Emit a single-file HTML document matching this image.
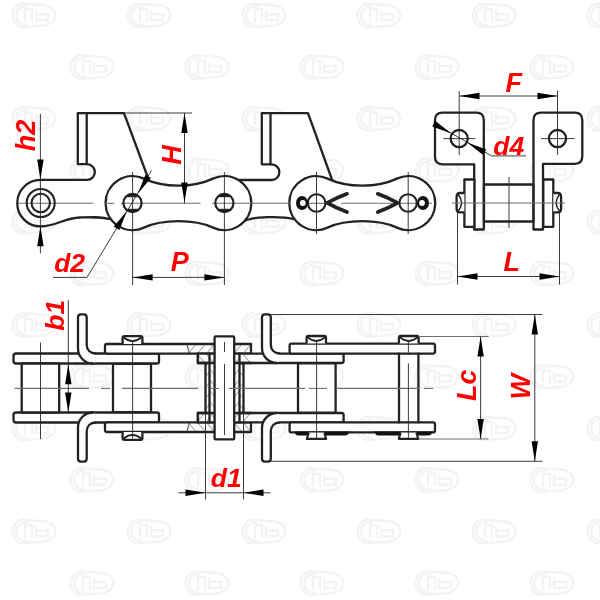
<!DOCTYPE html>
<html><head><meta charset="utf-8"><style>
html,body{margin:0;padding:0;background:#fff;}
svg{display:block;}
.o{fill:none;stroke:#222;stroke-width:2.3;stroke-linejoin:round;stroke-linecap:round;}
.w{fill:#fff;stroke:#222;stroke-width:2.3;stroke-linejoin:round;}
.t{fill:none;stroke:#262626;stroke-width:0.9;}
.c{fill:none;stroke:#6e6e6e;stroke-width:1.1;}
.h{fill:none;stroke:#444;stroke-width:0.8;}
.a{fill:#111;stroke:none;}
.s{font-size:26.5px !important;}
.r{fill:#f00;font-family:"Liberation Sans",sans-serif;font-weight:bold;font-style:italic;font-size:27px;}
.wm{fill:none;stroke:#f3f3f3;stroke-width:2.4;}
</style></head><body>
<svg width="600" height="600" viewBox="0 0 600 600">
<defs>
<g id="logo">
<path d="M-12,-11.5 L10,-10 C17,-9 21,-5 21.5,0 C21,5 17,9 10,10.5 L-12,12 C-18,11 -21.5,6 -21.5,0.3 C-21.5,-5 -18,-10.5 -12,-11.5 Z"/>
<path d="M-6,-9 C-14,-9 -18,-5 -18,0.5 C-18,6 -14,10 -6,10"/>
<path d="M-9,7 L-9,-6 L-2,-6 L-2,7 M2,-5 L2,5 L14,5 L14,-1 L2,-1"/>
</g>
<path id="arr" d="M0,0 L-20,-3.2 L-20,3.2 Z"/>
</defs>

<!-- watermarks -->
<filter id="bl" x="-5%" y="-5%" width="110%" height="110%"><feGaussianBlur stdDeviation="0.7"/></filter><g class="wm" id="wms" filter="url(#bl)"><use href="#logo" x="34.0" y="15.3"/><use href="#logo" x="149.0" y="15.3"/><use href="#logo" x="264.0" y="15.3"/><use href="#logo" x="379.0" y="15.3"/><use href="#logo" x="494.0" y="15.3"/><use href="#logo" x="609.0" y="15.3"/><use href="#logo" x="-23.0" y="66.9"/><use href="#logo" x="92.0" y="66.9"/><use href="#logo" x="207.0" y="66.9"/><use href="#logo" x="322.0" y="66.9"/><use href="#logo" x="437.0" y="66.9"/><use href="#logo" x="552.0" y="66.9"/><use href="#logo" x="34.0" y="118.5"/><use href="#logo" x="149.0" y="118.5"/><use href="#logo" x="264.0" y="118.5"/><use href="#logo" x="379.0" y="118.5"/><use href="#logo" x="494.0" y="118.5"/><use href="#logo" x="609.0" y="118.5"/><use href="#logo" x="-23.0" y="170.1"/><use href="#logo" x="92.0" y="170.1"/><use href="#logo" x="207.0" y="170.1"/><use href="#logo" x="322.0" y="170.1"/><use href="#logo" x="437.0" y="170.1"/><use href="#logo" x="552.0" y="170.1"/><use href="#logo" x="34.0" y="221.7"/><use href="#logo" x="149.0" y="221.7"/><use href="#logo" x="264.0" y="221.7"/><use href="#logo" x="379.0" y="221.7"/><use href="#logo" x="494.0" y="221.7"/><use href="#logo" x="609.0" y="221.7"/><use href="#logo" x="-23.0" y="273.3"/><use href="#logo" x="92.0" y="273.3"/><use href="#logo" x="207.0" y="273.3"/><use href="#logo" x="322.0" y="273.3"/><use href="#logo" x="437.0" y="273.3"/><use href="#logo" x="552.0" y="273.3"/><use href="#logo" x="34.0" y="324.9"/><use href="#logo" x="149.0" y="324.9"/><use href="#logo" x="264.0" y="324.9"/><use href="#logo" x="379.0" y="324.9"/><use href="#logo" x="494.0" y="324.9"/><use href="#logo" x="609.0" y="324.9"/><use href="#logo" x="-23.0" y="376.5"/><use href="#logo" x="92.0" y="376.5"/><use href="#logo" x="207.0" y="376.5"/><use href="#logo" x="322.0" y="376.5"/><use href="#logo" x="437.0" y="376.5"/><use href="#logo" x="552.0" y="376.5"/><use href="#logo" x="34.0" y="428.1"/><use href="#logo" x="149.0" y="428.1"/><use href="#logo" x="264.0" y="428.1"/><use href="#logo" x="379.0" y="428.1"/><use href="#logo" x="494.0" y="428.1"/><use href="#logo" x="609.0" y="428.1"/><use href="#logo" x="-23.0" y="479.7"/><use href="#logo" x="92.0" y="479.7"/><use href="#logo" x="207.0" y="479.7"/><use href="#logo" x="322.0" y="479.7"/><use href="#logo" x="437.0" y="479.7"/><use href="#logo" x="552.0" y="479.7"/><use href="#logo" x="34.0" y="531.3"/><use href="#logo" x="149.0" y="531.3"/><use href="#logo" x="264.0" y="531.3"/><use href="#logo" x="379.0" y="531.3"/><use href="#logo" x="494.0" y="531.3"/><use href="#logo" x="609.0" y="531.3"/><use href="#logo" x="-23.0" y="582.9"/><use href="#logo" x="92.0" y="582.9"/><use href="#logo" x="207.0" y="582.9"/><use href="#logo" x="322.0" y="582.9"/><use href="#logo" x="437.0" y="582.9"/><use href="#logo" x="552.0" y="582.9"/></g>

<!-- ================= SIDE VIEW ================= -->

<!-- inner plate 1-2 + attachment 1 -->
<path class="w" d="M40.5,179.9 L87,179.9 A7.85,7.85 0 0 0 87,164.2 L77.8,164.2 L77.8,113.1 L124,113.1 L147.5,176.5 L132,202 L112,219.5 C100,216.5 92,217 80,217.5 C64,218 56,226.4 40.5,226.4 A23.25,23.25 0 0 1 40.5,179.9 Z"/>
<line class="o" x1="86.7" y1="113.1" x2="86.7" y2="164.2"/>
<!-- inner plate 3-4 + attachment 2 -->
<path class="w" d="M224.4,180 L271.5,180 A7.85,7.85 0 0 0 271.5,164.3 L261.8,164.3 L261.8,113.1 L308,113.1 L332.5,181 L316,202 L293,219 C284,216.5 276,217 264,217.3 C252,217.5 246,220 240,222 L224.4,202 Z"/>
<line class="o" x1="270.5" y1="113.1" x2="270.5" y2="164.3"/>

<!-- outer plate 2-3 -->
<g transform="translate(0,0.6)"><path class="w" d="M143.9,178 C153,182.2 164,185 178.5,185 C193,185 204,182.2 213,178 A27,27 0 1 1 213,227 C204,222.8 193,220.5 178.5,220.5 C164,220.5 153,222.8 143.9,227 A27,27 0 1 1 143.9,178 Z"/></g>
<!-- outer plate 4-5 -->
<g transform="translate(0,0.6)"><path class="w" d="M327.6,178 C336.5,182.2 347.5,185 362.3,185 C377,185 388,182.2 396.9,178 A27,27 0 1 1 396.9,227 C388,222.8 377,220.5 362.3,220.5 C347.5,220.5 336.5,222.8 327.6,227 A27,27 0 1 1 327.6,178 Z"/></g>

<!-- centre line -->
<line class="c" x1="18" y1="203.3" x2="93.3" y2="203.3"/>
<line class="c" x1="104.5" y1="203.3" x2="114.3" y2="203.3"/><line class="c" x1="121" y1="203.3" x2="200.5" y2="203.3"/>
<line class="c" x1="212" y1="203.3" x2="290" y2="203.3"/>
<line class="c" x1="308" y1="203.3" x2="331" y2="203.3"/><line class="c" x1="341" y1="203.3" x2="392" y2="203.3"/><line class="c" x1="396" y1="203.3" x2="432" y2="203.3"/>

<!-- link 1 bushing -->
<circle class="o" cx="40.7" cy="203" r="14" style="stroke-width:2.1"/>
<circle class="o" cx="40.7" cy="203" r="9.2" style="stroke-width:2.1"/>
<!-- link 2/3 pins with flats -->
<g id="pinf">
<circle class="o" cx="132.5" cy="203" r="9.1" style="stroke-width:2.2"/>
<path class="a" d="M126.5,196.2 L138.5,196.2 A9.1,9.1 0 0 0 126.5,196.2 Z M126.5,209.8 L138.5,209.8 A9.1,9.1 0 0 1 126.5,209.8 Z"/>
<line class="o" x1="126.3" y1="196.2" x2="138.7" y2="196.2" style="stroke-linecap:butt;stroke-width:2"/>
<line class="o" x1="126.3" y1="209.8" x2="138.7" y2="209.8" style="stroke-linecap:butt;stroke-width:2"/>
</g>
<use href="#pinf" x="91.9"/>
<!-- link 4/5 pins with cotter -->
<circle class="o" cx="316.6" cy="203" r="8.8" style="stroke-width:2.1"/>
<ellipse class="a" cx="302" cy="203" rx="6" ry="7"/><circle fill="#fff" cx="302.8" cy="203" r="2.9"/>
<path class="o" d="M347,193.8 Q336,198 327.2,202.9 Q336,208 347,212" style="stroke-width:3.7"/>
<circle class="o" cx="408.1" cy="203" r="8.7" style="stroke-width:2.1"/>
<ellipse class="a" cx="423" cy="203" rx="6" ry="7.1"/><circle fill="#fff" cx="422" cy="203" r="2.9"/>
<path class="o" d="M377.8,193.8 Q388.8,198 397.6,202.9 Q388.8,208 377.8,212" style="stroke-width:3.7"/>

<!-- vertical centre lines -->
<line class="t" x1="132.6" y1="172" x2="132.6" y2="285"/>
<line class="t" x1="224.4" y1="172" x2="224.4" y2="285"/>
<line class="t" x1="316.5" y1="172" x2="316.5" y2="234"/>
<line class="t" x1="408.2" y1="172" x2="408.2" y2="234"/>

<!-- h2 dimension -->
<line class="t" x1="40.4" y1="113.8" x2="40.4" y2="253.3"/>
<use href="#arr" transform="translate(40.4,179.6) rotate(90)"/>
<use href="#arr" transform="translate(40.4,226.2) rotate(-90)"/>
<text class="r" transform="translate(35.2,151.2) rotate(-90)">h2</text>

<!-- H dimension -->
<line class="t" x1="124" y1="113" x2="192" y2="113"/>
<line class="t" x1="184.5" y1="113" x2="184.5" y2="203.3"/>
<use href="#arr" transform="translate(184.5,113) rotate(-90)"/>
<use href="#arr" transform="translate(184.5,202.5) rotate(90)"/>
<text class="r" transform="translate(180.6,164.8) rotate(-90)">H</text>

<!-- d2 leader -->
<path class="t" d="M53,277.4 L87,277.4 L151.5,170.5"/>
<use href="#arr" transform="translate(126.9,211.1) rotate(-59)"/>
<use href="#arr" transform="translate(137.9,193.6) rotate(121)"/>
<text class="r s" x="54.2" y="272.3">d2</text>

<!-- P dimension -->
<line class="t" x1="132.6" y1="277.4" x2="224.4" y2="277.4"/>
<use href="#arr" transform="translate(132.6,277.4) rotate(180)"/>
<use href="#arr" transform="translate(224.4,277.4)"/>
<text class="r" x="170.7" y="271.3">P</text>

<!-- ================= END VIEW ================= -->
<!-- F dim -->
<line class="t" x1="459.5" y1="96" x2="557.5" y2="96"/>
<use href="#arr" transform="translate(459.5,96) rotate(180)"/>
<use href="#arr" transform="translate(557.5,96)"/>
<text class="r" x="505.5" y="91.5">F</text>
<!-- plates -->
<path class="w" d="M474.2,229.5 L474.2,164.3 L442.5,164.3 Q435,164.3 435,156.8 L435,120.2 Q435,112.7 442.5,112.7 L476.3,112.7 Q483.8,112.7 483.8,120.2 L483.8,229.5 Z"/>
<path class="w" d="M543,229.5 L543,163.8 L574.8,163.8 Q582.3,163.8 582.3,156.3 L582.3,120.2 Q582.3,112.7 574.8,112.7 L541,112.7 Q533.5,112.7 533.5,120.2 L533.5,229.5 Z"/>
<!-- holes -->
<circle class="o" cx="459.2" cy="138.6" r="8.6"/>
<circle class="o" cx="557.5" cy="138.6" r="8.6"/>
<line class="t" x1="459.2" y1="91" x2="459.2" y2="155"/>
<line class="t" x1="443.4" y1="138.6" x2="475.3" y2="138.6"/>
<line class="t" x1="557.5" y1="91" x2="557.5" y2="155"/>
<line class="t" x1="541" y1="138.6" x2="574.5" y2="138.6"/>
<!-- roller + inner plates -->
<rect class="w" x="464.4" y="179.5" width="10" height="47.3"/>
<rect class="w" x="543.3" y="179.5" width="10" height="47.3"/>
<rect class="w" x="484" y="184.5" width="49.3" height="37"/>
<path class="w" d="M464.4,193 L460,193 Q456.6,193 456.6,197 L456.6,208.5 Q456.6,212.3 460,212.3 L464.4,212.3"/>
<path class="w" d="M553.3,193 L557.7,193 Q561.1,193 561.1,197 L561.1,208.5 Q561.1,212.3 557.7,212.3 L553.3,212.3"/>
<path class="o" d="M458.2,194.5 Q465,202.7 458.2,211 M559.5,194.5 Q552.7,202.7 559.5,211" style="stroke-width:1.5"/>
<line class="c" x1="452" y1="203" x2="565" y2="203"/>
<line class="t" x1="509" y1="177" x2="509" y2="228"/>
<!-- d4 leader -->
<path class="t" d="M433.5,123.2 L491.6,155.9 L526,155.9"/>
<use href="#arr" transform="translate(451.3,133.5) rotate(29.3)"/>
<use href="#arr" transform="translate(467.2,142.5) rotate(209.3)"/>
<text class="r s" x="493.3" y="154.5">d4</text>
<!-- L dim -->
<line class="t" x1="457.5" y1="211" x2="457.5" y2="284.5"/>
<line class="t" x1="559.5" y1="211" x2="559.5" y2="284.5"/>
<line class="t" x1="457.5" y1="276.5" x2="559.5" y2="276.5"/>
<use href="#arr" transform="translate(457.5,276.5) rotate(180)"/>
<use href="#arr" transform="translate(559.5,276.5)"/>
<text class="r" x="503.5" y="270.5">L</text>


<!-- ================= PLAN VIEW ================= -->
<defs>
<pattern id="hf" patternUnits="userSpaceOnUse" width="7" height="7" patternTransform="rotate(40)"><line x1="0" y1="0" x2="0" y2="7" stroke="#333" stroke-width="0.9"/></pattern>
<pattern id="hb" patternUnits="userSpaceOnUse" width="7" height="7" patternTransform="rotate(-40)"><line x1="0" y1="0" x2="0" y2="7" stroke="#333" stroke-width="0.9"/></pattern>
<g id="ph">
<!-- inner plate 1-2 -->
<path class="w" d="M16,353.5 L157,353.5 Q159,353.5 159,355.5 L159,361.5 Q159,363.5 157,363.5 L16,363.5 Q13.5,363.5 13.5,361 L13.5,356 Q13.5,353.5 16,353.5 Z"/>
<path fill="#fff" d="M78,348 L78,317.5 Q78,314.4 81,314.4 L83.7,314.4 Q86.7,314.4 86.7,317.5 L86.7,345 A8.5,8.5 0 0 0 95.2,353.5 L95.2,362.5 L93,362.5 A15,15 0 0 1 78,348 Z"/>
<path class="o" d="M78,348 L78,317.5 Q78,314.4 81,314.4 L83.7,314.4 Q86.7,314.4 86.7,317.5 L86.7,345 A8.5,8.5 0 0 0 95.2,353.5 M78,348 A15,15 0 0 0 93,363.5"/>
<!-- outer plate 2-3 -->
<path class="w" d="M107,344 L251,344 L251,353.6 L107,353.6 Q105,353.6 105,351.6 L105,346 Q105,344 107,344 Z"/>
<!-- pin head link 2 -->
<path class="w" d="M122.6,344 L122.6,338 Q122.6,336.2 124.4,336.2 L140.6,336.2 Q142.4,336.2 142.4,338 L142.4,344"/>
<path class="o" d="M123.4,337.3 Q132.5,345 141.6,337.3" style="stroke-width:1.8"/>
<!-- inner plate 3-4 -->
<path class="w" d="M197.9,353.6 L341.6,353.6 Q343.6,353.6 343.6,355.6 L343.6,361 Q343.6,363 341.6,363 L197.9,363 Z"/>
<path fill="#fff" d="M262,348 L262,317.5 Q262,314.4 265,314.4 L267.8,314.4 Q270.8,314.4 270.8,317.5 L270.8,345 A8.5,8.5 0 0 0 279.3,353.5 L279.3,362 L277,362 A15,15 0 0 1 262,348 Z"/>
<path class="o" d="M262,348 L262,317.5 Q262,314.4 265,314.4 L267.8,314.4 Q270.8,314.4 270.8,317.5 L270.8,345 A8.5,8.5 0 0 0 279.3,353.5 M262,348 A15,15 0 0 0 277,363"/>
<!-- section hatching -->
<path fill="url(#hf)" d="M187,344.5 L214.5,344.5 L214.5,353 L189.6,353 Z"/>
<path fill="url(#hf)" d="M234.5,344.5 L251,344.5 L251,353 L234.5,353 Z"/>
<path fill="url(#hb)" d="M198.5,354.3 L210,354.3 L210,362.3 L198.5,362.3 Z"/>
<path fill="url(#hb)" d="M239,354.3 L251.5,354.3 L251.5,362.3 L239,362.3 Z"/>
<path class="t" d="M186.7,344 L189.6,353.6"/>
<!-- outer plate 4-5 -->
<path class="w" d="M291.6,343.6 L433,343.6 Q435,343.6 435,345.6 L435,351.6 Q435,353.6 433,353.6 L291.6,353.6 Q289.6,353.6 289.6,351.6 L289.6,345.6 Q289.6,343.6 291.6,343.6 Z"/>
</g>
</defs>
<use href="#ph"/>
<use href="#ph" transform="matrix(1,0,0,-1,0,776)"/>
<!-- pin heads link 4,5 -->
<path class="w" d="M306.6,343.6 L306.6,337.8 Q306.6,336 308.4,336 L324.2,336 Q326,336 326,337.8 L326,343.6"/>
<path class="o" d="M307.4,337.1 Q316.3,344.8 325.2,337.1" style="stroke-width:1.8"/>
<path class="w" d="M398.9,343.6 L398.9,337.8 Q398.9,336 400.7,336 L416.8,336 Q418.6,336 418.6,337.8 L418.6,343.6"/>
<path class="o" d="M399.7,337.1 Q408.7,344.8 417.8,337.1" style="stroke-width:1.8"/>
<!-- dark bands under bottom outer plate -->
<path class="a" d="M294.3,431.5 L349.5,431.5 Q348.5,435.6 345,435.6 L298,435.6 Q295.5,435.6 294.3,431.5 Z"/>
<path class="a" d="M374.3,431.5 L432.8,431.5 Q431.5,435.6 428,435.6 L378,435.6 Q375.5,435.6 374.3,431.5 Z"/>
<path class="w" d="M308.7,432.6 L306.8,438.9 L326.2,438.9 L324.3,432.6" style="stroke-width:2.1"/>
<path class="w" d="M400.6,432.6 L398.8,438.9 L418.2,438.9 L416.4,432.6" style="stroke-width:2.1"/>

<!-- rollers -->
<rect class="w" x="21.7" y="363.5" width="37.5" height="49"/>
<rect class="w" x="113" y="363.8" width="38" height="48.4"/>
<rect class="w" x="298" y="363.3" width="37.6" height="49.4"/>
<!-- pin link 5 shaft -->
<line class="o" x1="399" y1="353.6" x2="399" y2="422.4"/>
<line class="o" x1="418.4" y1="353.6" x2="418.4" y2="422.4"/>

<!-- section link 3: roller & bushing walls -->
<rect fill="url(#hf)" x="205.5" y="362.5" width="4" height="50"/>
<rect fill="url(#hb)" x="209.5" y="354" width="5" height="68"/>
<rect fill="url(#hb)" x="239.5" y="362.5" width="4" height="50"/>
<rect fill="url(#hf)" x="234.5" y="354" width="5" height="68"/>
<path class="o" d="M205.5,362.8 L205.5,412.8 M209.5,353.6 L209.5,422.4 M239.5,353.6 L239.5,422.4 M243.5,362.8 L243.5,412.8"/>
<path class="o" d="M197.9,363 L209.5,363 M239.5,363 L251.5,363 M197.9,413 L209.5,413 M239.5,413 L251.5,413"/>
<path class="o" d="M197.9,353.6 L197.9,363 M197.9,413 L197.9,422.4"/>
<!-- pin -->
<rect class="w" x="214.6" y="336.4" width="19.6" height="103" rx="1"/>
<line class="t" x1="224.5" y1="342" x2="224.5" y2="352"/><line class="t" x1="224.5" y1="364" x2="224.5" y2="435"/>


<!-- centre lines plan -->
<line class="c" x1="14.6" y1="388.4" x2="89" y2="388.4"/><line class="c" x1="101" y1="388.4" x2="110" y2="388.4"/><line class="c" x1="122" y1="388.4" x2="198" y2="388.4"/><line class="c" x1="210" y1="388.4" x2="219" y2="388.4"/><line class="c" x1="229" y1="388.4" x2="305" y2="388.4"/><line class="c" x1="309" y1="388.4" x2="327" y2="388.4"/><line class="c" x1="336" y1="388.4" x2="420" y2="388.4"/><line class="c" x1="424" y1="388.4" x2="433" y2="388.4"/>
<line class="t" x1="40.5" y1="342.5" x2="40.5" y2="439"/>
<line class="t" x1="132.6" y1="342" x2="132.6" y2="438.5"/>
<line class="t" x1="316.6" y1="342" x2="316.6" y2="438.5"/>
<line class="t" x1="408.4" y1="342" x2="408.4" y2="352.5"/><line class="t" x1="408.4" y1="363.3" x2="408.4" y2="438.5"/>

<!-- b1 -->
<line class="t" x1="68.3" y1="300" x2="68.3" y2="412.6"/>
<use href="#arr" transform="translate(68.3,364.2) rotate(-90)"/>
<use href="#arr" transform="translate(68.3,412.6) rotate(90)"/>
<text class="r s" transform="translate(64.4,330.8) rotate(-90)">b1</text>

<!-- d1 -->
<line class="t" x1="205.5" y1="413" x2="205.5" y2="499.3"/>
<line class="t" x1="243.5" y1="413" x2="243.5" y2="499.3"/>
<line class="t" x1="178.4" y1="492.8" x2="270.5" y2="492.8"/>
<use href="#arr" transform="translate(205.5,492.8)"/>
<use href="#arr" transform="translate(243.5,492.8) rotate(180)"/>
<text class="r s" x="210.8" y="487.4">d1</text>

<!-- Lc -->
<line class="c" x1="418.6" y1="336.5" x2="488.6" y2="336.5"/>
<line class="c" x1="418.6" y1="439" x2="488.6" y2="439"/>
<line class="t" x1="480.6" y1="336.5" x2="480.6" y2="439"/>
<use href="#arr" transform="translate(480.6,336.5) rotate(-90)"/>
<use href="#arr" transform="translate(480.6,439) rotate(90)"/>
<text class="r" transform="translate(476,401) rotate(-90)">Lc</text>

<!-- W -->
<line class="t" x1="271" y1="314.5" x2="542.6" y2="314.5"/>
<line class="t" x1="271" y1="461.3" x2="542.6" y2="461.3"/>
<line class="t" x1="534.8" y1="314.5" x2="534.8" y2="461.3"/>
<use href="#arr" transform="translate(534.8,314.5) rotate(-90)"/>
<use href="#arr" transform="translate(534.8,461.3) rotate(90)"/>
<text class="r" transform="translate(529.8,399.6) rotate(-90)">W</text>

</svg>
</body></html>
